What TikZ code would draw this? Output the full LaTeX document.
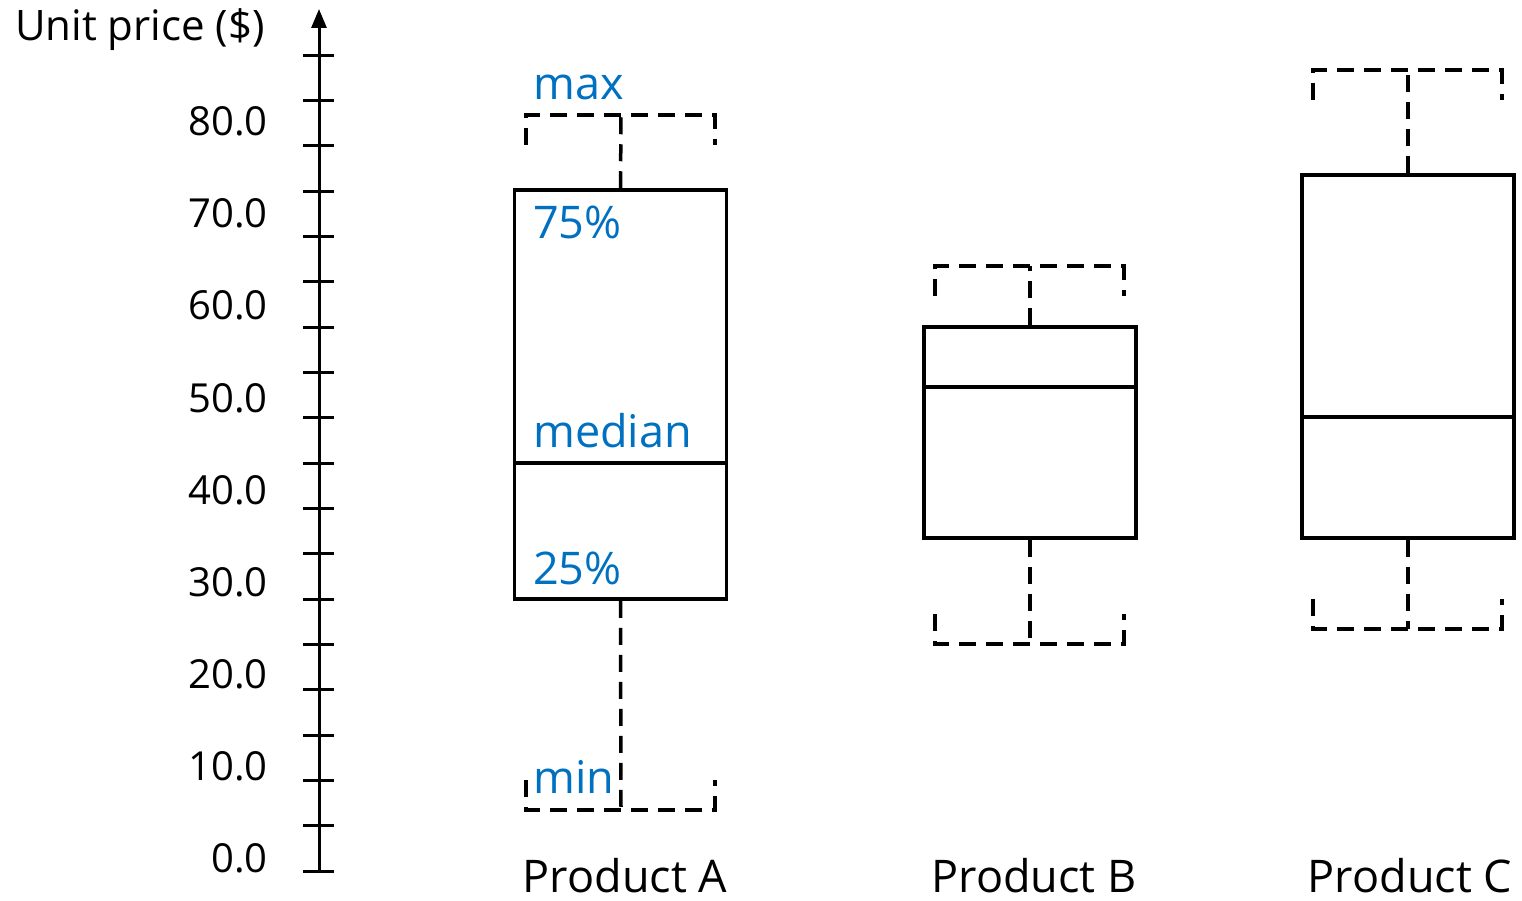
\documentclass[tikz,border=0pt]{standalone}
\usepackage{fontspec}
\setmainfont{Open Sans}
\usetikzlibrary{arrows.meta}
\definecolor{lblblue}{HTML}{0070C0}
\tikzset{
  boxst/.style={draw=black, line width=3.5pt, inner sep=0pt, fill=none},
  whisk/.style={draw=black, line width=3.5pt, dash pattern=on 17pt off 10pt},
  medline/.style={draw=black, line width=3.5pt},
  tick/.style={draw=black, line width=3pt},
  axisline/.style={draw=black, line width=3pt, -{Triangle[length=19pt,width=15pt]}},
  ticklbl/.style={anchor=east, inner sep=0pt, font=\fontsize{40}{46}\selectfont},
  bluelbl/.style={anchor=west, inner sep=0pt, text=lblblue, font=\fontsize{45}{52}\selectfont},
  prodlbl/.style={inner sep=0pt, font=\fontsize{45}{52}\selectfont},
}
\begin{document}
\begin{tikzpicture}[x=1pt, y=-1pt]
\useasboundingbox (0,0) rectangle (1522,901);
% axis
\coordinate (axbot) at (319,871);
\coordinate (axtop) at (319,9);
\draw[axisline] (axbot) -- (axtop);
\foreach \i in {0,...,18} {
  \draw[tick] (303,{871-45.33*\i}) -- (334,{871-45.33*\i});
}
\node[inner sep=0pt, anchor=west, font=\fontsize{42}{48}\selectfont] (ytitle) at (15,30) {Unit price (\$)};
\node[ticklbl] (l80) at (268,121) {80.0};
\node[ticklbl] (l70) at (268,213) {70.0};
\node[ticklbl] (l60) at (268,305) {60.0};
\node[ticklbl] (l50) at (268,398) {50.0};
\node[ticklbl] (l40) at (268,490) {40.0};
\node[ticklbl] (l30) at (268,582) {30.0};
\node[ticklbl] (l20) at (268,674) {20.0};
\node[ticklbl] (l10) at (268,766) {10.0};
\node[ticklbl] (l0) at (268,858) {0.0};

% Product A
\node[boxst, minimum width=212pt, minimum height=409pt] (boxA) at (620.5,394.5) {};
\draw[medline] (514.5,463) -- (726.5,463);
\coordinate (Atop) at (621,115);
\coordinate (Abot) at (621,810);
\draw[whisk] (boxA.north) -- (Atop);
\draw[whisk] (boxA.south) -- (Abot);
\draw[whisk] (526,145) -- (526,115) -- (715,115) -- (715,145);
\draw[whisk] (526,780) -- (526,810) -- (715,810) -- (715,780);
\node[bluelbl] (tmax) at (533,87) {max};
\node[bluelbl] (t75) at (533,222) {75\%};
\node[bluelbl] (tmed) at (533,431) {median};
\node[bluelbl] (t25) at (533,568) {25\%};
\node[bluelbl] (tmin) at (533,777) {min};
\node[prodlbl] (pA) at (625,876) {Product A};

% Product B
\node[boxst, minimum width=212pt, minimum height=211pt] (boxB) at (1030,432.5) {};
\draw[medline] (924,387) -- (1136,387);
\coordinate (Btop) at (1030,266);
\coordinate (Bbot) at (1030,644);
\draw[whisk] (boxB.north) -- (Btop);
\draw[whisk] (boxB.south) -- (Bbot);
\draw[whisk] (935,296) -- (935,266) -- (1124,266) -- (1124,296);
\draw[whisk] (935,614) -- (935,644) -- (1124,644) -- (1124,614);
\node[prodlbl] (pB) at (1034,876) {Product B};

% Product C
\node[boxst, minimum width=212pt, minimum height=363pt] (boxC) at (1408,356.5) {};
\draw[medline] (1302,417) -- (1514,417);
\coordinate (Ctop) at (1408,70);
\coordinate (Cbot) at (1408,629);
\draw[whisk] (boxC.north) -- (Ctop);
\draw[whisk] (boxC.south) -- (Cbot);
\draw[whisk] (1313,100) -- (1313,70) -- (1502,70) -- (1502,100);
\draw[whisk] (1313,599) -- (1313,629) -- (1502,629) -- (1502,599);
\node[prodlbl] (pC) at (1410,876) {Product C};
\end{tikzpicture}
\end{document}
